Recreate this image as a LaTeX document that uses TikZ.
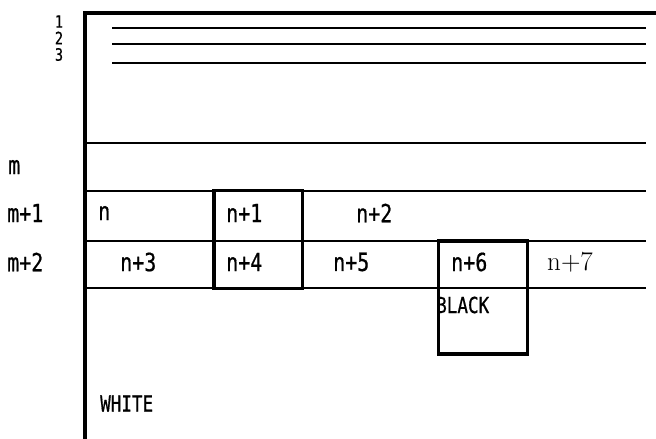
\documentclass[tikz,border=0pt]{standalone}
\usepackage{fontspec}
\newfontfamily\gothic[FakeStretch=0.8,FakeBold=0.6]{DejaVu Sans Mono}
\usepackage{tikz}
\usetikzlibrary{positioning}

\begin{document}
\begin{tikzpicture}[
  x=1pt, y=-1pt,
  every node/.style={inner sep=0pt, anchor=west},
  lbl/.style={font=\gothic\fontsize{25}{25}\selectfont},
  small/.style={font=\gothic\fontsize{17}{17}\selectfont},
  colour/.style={font=\gothic\fontsize{22}{22}\selectfont},
  serif/.style={font=\fontsize{27}{27}\selectfont},
  frame/.style={line width=3.8pt},
  rule/.style={line width=1.8pt},
  cell/.style={line width=3.4pt}
]
\useasboundingbox (0,0) rectangle (656,439);
\def\xl{85}
\def\xr{645.5}

% outer frame, open at the bottom and right
\draw[frame] (\xl,439) -- (\xl,12.7) -- (656,12.7);

% lines 1 to 3
\draw[rule] (112,28.3) -- (\xr,28.3);
\draw[rule] (112,43.7) -- (\xr,43.7);
\draw[rule] (112,62.7) -- (\xr,62.7);
\node[small, anchor=center] (r1) at (59,21.5) {1};
\node[small, anchor=center] (r2) at (59,38) {2};
\node[small, anchor=center] (r3) at (59,54.5) {3};

% rows m, m+1, m+2
\draw[rule] (\xl,142.7) -- (\xr,142.7);
\draw[rule] (\xl,190.7) -- (\xr,190.7);
\draw[rule] (\xl,241) -- (\xr,241);
\draw[rule] (\xl,288.3) -- (\xr,288.3);
\node[lbl] (rm) at (8,167) {m};
\node[lbl] (rm1) at (7,213) {m+1};
\node[lbl] (rm2) at (7,262) {m+2};

% cells
\node[lbl] (c0) at (98,213) {n};
\node[lbl] (c1) at (226,213) {n+1};
\node[lbl] (c2) at (356,213) {n+2};
\node[lbl] (c3) at (120,262) {n+3};
\node[lbl] (c4) at (226,262) {n+4};
\node[lbl] (c5) at (333,262) {n+5};
\node[lbl] (c6) at (451,262) {n+6};
\node[serif] (c7) at (547,262) {n+7};

% marked cells
\draw[cell] (214,190.7) rectangle (302.7,288.3);
\draw[cell] (438.3,241) rectangle (527.3,354);

\node[colour] (black) at (436,305) {BLACK};
\node[colour] (white) at (100,403.5) {WHITE};
\end{tikzpicture}
\end{document}
